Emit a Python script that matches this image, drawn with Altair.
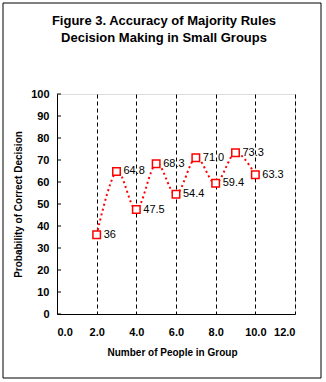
import altair as alt
import pandas as pd

group_size = [2, 3, 4, 5, 6, 7, 8, 9, 10]
probability = [36, 64.8, 47.5, 68.3, 54.4, 71.0, 59.4, 73.3, 63.3]
point_labels = ["36", "64.8", "47.5", "68.3", "54.4", "71.0", "59.4", "73.3", "63.3"]
x_ticks = [0, 2, 4, 6, 8, 10, 12]
y_ticks = [0, 10, 20, 30, 40, 50, 60, 70, 80, 90, 100]

df = pd.DataFrame({"n": group_size, "p": probability, "lab": point_labels})
ticks_df = pd.DataFrame({"t": y_ticks})

FONT = "Liberation Sans"
RED = "#ff0000"

x_axis = alt.Axis(values=x_ticks, tickCount=len(x_ticks), format=".1f", title="Number of People in Group",
                  grid=True, gridDash=[4, 3], gridColor="black", gridWidth=1, gridOpacity=1,
                  ticks=False, domain=True, domainColor="black", domainWidth=1,
                  labelOverlap=False,
                  labelFont=FONT, labelFontWeight="bold", labelFontSize=11, labelColor="black",
                  labelPadding=12,
                  titleFont=FONT, titleFontWeight="bold", titleFontSize=10, titleColor="black",
                  titleX=115, titleY=38, titleBaseline="middle", titleAlign="center")
y_axis = alt.Axis(values=y_ticks, tickCount=len(y_ticks), title="Probability of Correct Decision",
                  grid=False, ticks=False, domain=True, domainColor="black", domainWidth=1,
                  labelOverlap=False,
                  labelFont=FONT, labelFontWeight="bold", labelFontSize=11, labelColor="black",
                  labelPadding=8,
                  titleFont=FONT, titleFontWeight="bold", titleFontSize=10, titleColor="black",
                  titleX=-39, titleY=110, titleBaseline="middle", titleAlign="center", titleAngle=-90)
x_scale = alt.Scale(domain=[0, 12], nice=False, zero=False)
y_scale = alt.Scale(domain=[0, 100], nice=False)

base = alt.Chart(df)

line = base.mark_line(color=RED, strokeDash=[2, 3], strokeWidth=2, interpolate="cardinal").encode(
    x=alt.X("n:Q", scale=x_scale, axis=x_axis),
    y=alt.Y("p:Q", scale=y_scale, axis=y_axis))

pts = base.mark_square(fill="white", stroke=RED, strokeWidth=1.5, size=56, opacity=1).encode(
    x="n:Q", y="p:Q")

txt = base.mark_text(align="left", baseline="middle", dx=7, font=FONT, fontSize=11, color="black").encode(
    x="n:Q", y="p:Q", text="lab:N")

yt = alt.Chart(ticks_df).mark_rule(color="black", strokeWidth=1).encode(
    y=alt.Y("t:Q", scale=y_scale, axis=y_axis),
    x=alt.value(0), x2=alt.value(4))

frame = alt.Chart(alt.Data(values=[{"a": 1}])).mark_rect(fill=None, stroke="black", strokeWidth=1).encode(
    x=alt.value(-54), x2=alt.value(264), y=alt.value(-91), y2=alt.value(284))

chart = alt.layer(line, yt, pts, txt, frame).properties(
    width=238, height=220,
    padding={"left": 57, "top": 94, "right": 31, "bottom": 68},
    autosize=alt.AutoSizeParams(type="none"),
    title=alt.TitleParams(["Figure 3. Accuracy of Majority Rules", "Decision Making in Small Groups"],
                          font=FONT, fontSize=13, fontWeight="bold", color="black",
                          anchor="middle", frame="group", offset=-42, dx=-12, lineHeight=17),
).configure_view(stroke="black", strokeWidth=1).configure(background="white")

chart.save("out.html", embed_options={"renderer": "svg", "actions": False})
